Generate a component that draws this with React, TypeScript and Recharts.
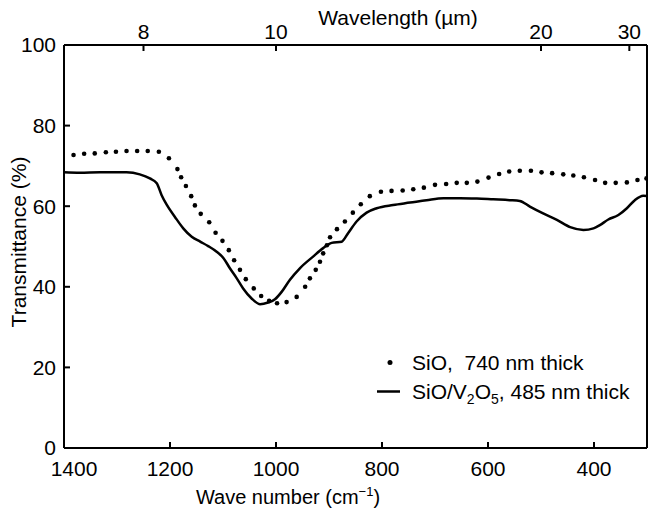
import {
  ComposedChart,
  Legend,
  Line,
  XAxis,
  YAxis,
} from "recharts";

const FONT = '"Liberation Sans", Arial, sans-serif';

// wave number (cm-1) and transmittance (%)
const sioNu = [
  1382, 1362, 1342, 1321, 1302, 1282, 1262, 1242, 1221, 1202, 1186, 1179,
  1170, 1160, 1153, 1142, 1126, 1114, 1101, 1089, 1079, 1068, 1057, 1042,
  1028, 1013, 998, 980, 961, 945, 936, 925, 917, 911, 904, 898, 885, 870, 855,
  840, 823, 802, 782, 761, 741, 721, 700, 679, 659, 640, 620, 599, 579, 560,
  540, 519, 499, 479, 458, 439, 419, 398, 379, 359, 338, 318, 301,
];
const sioT = [
  72.7, 73.0, 73.1, 73.4, 73.5, 73.7, 73.7, 73.7, 73.5, 71.9, 69.2, 67.2,
  65.0, 62.5, 60.2, 58.1, 56.0, 53.4, 51.4, 49.1, 46.6, 44.2, 41.9, 39.6,
  37.7, 36.5, 35.9, 36.2, 37.5, 40.0, 42.1, 44.2, 46.2, 48.3, 50.3, 52.3, 54.3,
  56.2, 58.4, 60.5, 62.5, 63.6, 63.8, 63.9, 64.2, 64.6, 65.3, 65.5, 65.8, 65.8,
  66.1, 67.1, 68.0, 68.6, 68.8, 68.8, 68.4, 68.2, 67.9, 67.6, 67.2, 66.5, 65.8,
  65.8, 65.9, 66.5, 66.9,
];

const sioV2o5Nu = [
  1400, 1370, 1332, 1282, 1257, 1238, 1225, 1216, 1206, 1191, 1175, 1159,
  1143, 1128, 1112, 1099, 1087, 1074, 1062, 1046, 1030, 1015, 1002, 989, 974,
  955, 930, 911, 895, 876, 864, 848, 829, 810, 779, 747, 716, 684, 653, 621,
  590, 559, 540, 521, 496, 470, 445, 420, 401, 389, 373, 354, 338, 323, 307,
  300,
];
const sioV2o5T = [
  68.4, 68.3, 68.4, 68.4, 67.9, 66.9, 65.7, 62.8, 60.3, 57.4, 54.5, 52.4,
  51.2, 50.1, 48.7, 47.1, 44.6, 42.1, 39.6, 37.1, 35.7, 36.1, 36.9, 38.8, 41.7,
  44.6, 47.5, 49.6, 50.9, 51.2, 53.3, 56.2, 58.4, 59.5, 60.3, 60.9, 61.5, 62.0,
  62.0, 61.9, 61.7, 61.5, 61.3, 59.9, 58.2, 56.6, 54.8, 54.1, 54.5, 55.3, 56.7,
  57.8, 59.5, 61.5, 62.6, 62.5,
];

const waveNumberTicks = [1400, 1200, 1000, 800, 600, 400];
const wavelengthTicks = [8, 10, 20, 30];
const transmittanceTicks = [0, 20, 40, 60, 80, 100];

const sioData = sioNu.map((nu, i) => ({ nu, t: sioT[i] }));
const sioV2o5Data = sioV2o5Nu.map((nu, i) => ({ nu, t: sioV2o5T[i] }));

const tickStyle = { fontSize: 21, fill: "#000", fontFamily: FONT };
const axisLine = { stroke: "#000", strokeWidth: 2 };

function BottomTick(props: any) {
  const { x, y, payload } = props;
  const shift = payload.value === 1400 ? 10 : 0;
  return (
    <text
      x={x + shift}
      y={y}
      dy="0.71em"
      textAnchor="middle"
      fontSize={21}
      fontFamily={FONT}
      fill="#000"
    >
      {payload.value}
    </text>
  );
}

function LegendBox() {
  const row = {
    display: "flex",
    alignItems: "center",
    height: 29,
    whiteSpace: "nowrap" as const,
  };
  return (
    <div style={{ fontFamily: FONT, fontSize: 21, color: "#000" }}>
      <div style={row}>
        <svg width={42} height={29}>
          <circle cx={20} cy={14.5} r={2.5} fill="#000" />
        </svg>
        <span>SiO,&nbsp; 740 nm thick</span>
      </div>
      <div style={row}>
        <svg width={42} height={29}>
          <line x1={7} x2={30} y1={14.5} y2={14.5} stroke="#000" strokeWidth={2.5} />
        </svg>
        <span>
          SiO/V
          <span style={{ fontSize: 14, verticalAlign: -5, lineHeight: 0 }}>2</span>
          O
          <span style={{ fontSize: 14, verticalAlign: -5, lineHeight: 0 }}>5</span>
          , 485 nm thick
        </span>
      </div>
    </div>
  );
}

export default function App() {
  return (
    <div
      style={{
        position: "absolute",
        left: 0,
        top: 0,
        width: 649,
        height: 509,
        background: "#fff",
        fontFamily: FONT,
      }}
    >
      <ComposedChart
        width={649}
        height={509}
        margin={{ top: 0, right: 0, bottom: 0, left: 0 }}
      >
        <XAxis
          xAxisId="bottom"
          type="number"
          dataKey="nu"
          domain={[300, 1400]}
          reversed
          allowDataOverflow
          ticks={waveNumberTicks}
          tick={<BottomTick />}
          tickSize={-6}
          tickMargin={19}
          tickLine={axisLine}
          axisLine={axisLine}
          height={61}
          label={{
            content: () => (
              <text
                x={288}
                y={504}
                textAnchor="middle"
                fontSize={20}
                fontFamily={FONT}
                fill="#000"
              >
                Wave number (cm
                <tspan dy={-8} fontSize={13}>
                  −1
                </tspan>
                <tspan dy={8}>)</tspan>
              </text>
            ),
          }}
        />
        <XAxis
          xAxisId="top"
          orientation="top"
          type="number"
          dataKey="nu"
          domain={[300, 1400]}
          reversed
          allowDataOverflow
          ticks={wavelengthTicks.map((w) => 10000 / w)}
          tickFormatter={(v: number) => String(Math.round(10000 / v))}
          tick={tickStyle}
          tickSize={-6}
          tickMargin={12}
          tickLine={axisLine}
          axisLine={axisLine}
          height={45}
          label={{
            content: () => (
              <text
                x={398}
                y={25}
                textAnchor="middle"
                fontSize={21}
                fontFamily={FONT}
                fill="#000"
              >
                Wavelength (µm)
              </text>
            ),
          }}
        />
        <YAxis
          yAxisId="left"
          type="number"
          domain={[0, 100]}
          ticks={transmittanceTicks}
          tick={tickStyle}
          tickSize={-6}
          tickMargin={14}
          tickLine={axisLine}
          axisLine={axisLine}
          width={64}
          label={{
            content: () => (
              <text
                x={18}
                y={242}
                transform="rotate(-90, 18, 242)"
                textAnchor="middle"
                dominantBaseline="central"
                fontSize={21}
                fontFamily={FONT}
                fill="#000"
              >
                Transmittance (%)
              </text>
            ),
          }}
        />
        <YAxis
          yAxisId="right"
          orientation="right"
          type="number"
          domain={[0, 100]}
          tick={false}
          tickLine={false}
          axisLine={axisLine}
          width={2}
        />
        <Legend
          layout="horizontal"
          align="center"
          verticalAlign="middle"
          content={<LegendBox />}
          wrapperStyle={{ position: "absolute", left: 370, top: 348, width: 260 }}
        />
        <Line
          xAxisId="bottom"
          yAxisId="left"
          data={sioData}
          dataKey="t"
          name="SiO, 740 nm thick"
          stroke="none"
          strokeWidth={0}
          dot={{ r: 2.3, fill: "#000", stroke: "none" }}
          isAnimationActive={false}
        />
        <Line
          xAxisId="bottom"
          yAxisId="left"
          data={sioV2o5Data}
          dataKey="t"
          name="SiO/V2O5, 485 nm thick"
          type="monotone"
          stroke="#000"
          strokeWidth={2.5}
          dot={false}
          isAnimationActive={false}
        />
      </ComposedChart>
    </div>
  );
}
